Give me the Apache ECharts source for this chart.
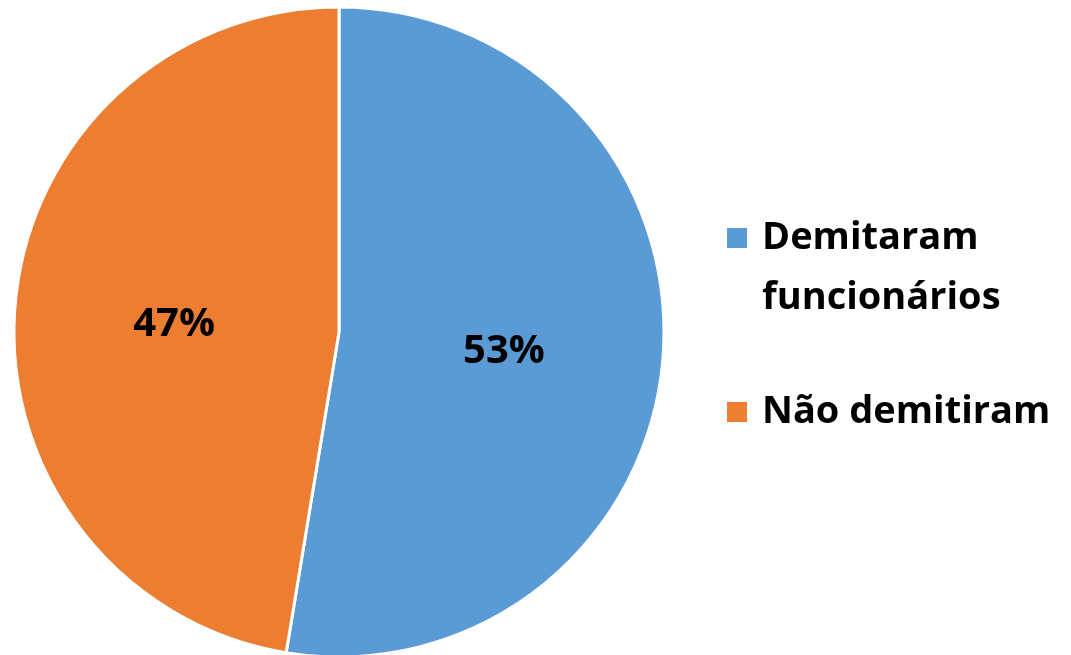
<!DOCTYPE html>
<html>
  <head>
    <meta charset="UTF-8" />
    <title>Demissões</title>
    <style>
      html, body { margin: 0; padding: 0; background: #fff; }
      #chart { width: 1071px; height: 655px; }
    </style>
    <script src="https://cdn.jsdelivr.net/npm/echarts@6/dist/echarts.min.js"></script>
  </head>
  <body>
    <div id="chart"></div>
    <script>
      // dados (53% / 47%)
      var categories = ["Demitaram funcionários", "Não demitiram"];
      var values = [52.6, 47.4];
      var colors = ["#5B9BD5", "#ED7D31"];

      var myChart = echarts.init(document.getElementById("chart"));

      var pieData = categories.map(function (name, i) {
        return { name: name, value: values[i], itemStyle: { color: colors[i] } };
      });

      var option = {
        animation: false,
        legend: {
          orient: "vertical",
          left: 720,
          top: 143,
          itemWidth: 22,
          itemHeight: 22,
          itemGap: 54,
          icon: "rect",
          textStyle: {
            fontFamily: "Open Sans",
            fontWeight: "bold",
            fontSize: 38,
            lineHeight: 60,
            color: "#000",
            padding: [0, 0, 0, 9]
          },
          formatter: function (name) {
            // linha vazia antes para alinhar o marcador com a primeira linha
            if (name === "Demitaram funcionários") return " \nDemitaram\nfuncionários";
            return name;
          },
          data: categories
        },
        series: [
          {
            type: "pie",
            center: [339, 332],
            radius: [0, 325],
            startAngle: 90,
            clockwise: true,
            percentPrecision: 0,
            label: {
              show: true,
              position: "inside",
              formatter: "{p|{d}%}",
              rich: {
                p: {
                  fontFamily: "Open Sans",
                  fontWeight: "bold",
                  fontSize: 40,
                  color: "#000",
                  padding: [12, 0, 0, 0]
                }
              }
            },
            labelLine: { show: false },
            itemStyle: { borderColor: "#fff", borderWidth: 3 },
            emphasis: { disabled: true },
            data: pieData
          }
        ]
      };

      myChart.setOption(option);
    </script>
  </body>
</html>
